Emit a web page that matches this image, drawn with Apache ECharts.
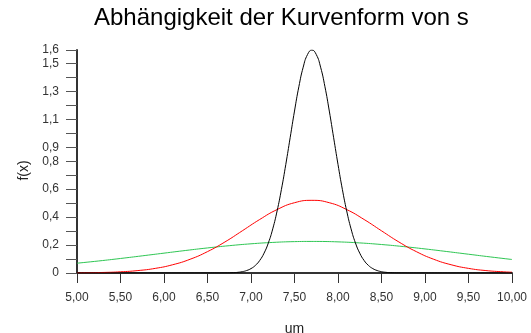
<!DOCTYPE html>
<html>
<head>
<meta charset="utf-8">
<script src="https://cdn.jsdelivr.net/npm/echarts@6/dist/echarts.min.js"></script>
<style>html,body{margin:0;padding:0;background:#fff}#c{width:531px;height:333px}</style>
</head>
<body>
<div id="c"></div>
<script>
var titleText = 'Abhängigkeit der Kurvenform von s';
var xAxisName = 'um';
var yAxisName = 'f(x)';

var blackX = [5.0, 6.0, 6.5, 6.7, 6.8, 6.85, 6.9, 6.95, 7.0, 7.05, 7.1, 7.15, 7.2, 7.25, 7.3, 7.35, 7.4, 7.45, 7.5, 7.55, 7.6, 7.65, 7.7,
              7.75, 7.8, 7.85, 7.9, 7.95, 8.0, 8.05, 8.1, 8.15, 8.2, 8.25, 8.3, 8.35, 8.4, 8.45, 8.5, 8.55, 8.6, 8.7, 8.9, 9.5, 10.0];
var blackY = [0, 0, 0, 0.0005, 0.0024, 0.0049, 0.0095, 0.0177, 0.0316, 0.0543, 0.0896, 0.142, 0.216, 0.316, 0.444, 0.599, 0.777, 0.968, 1.159, 1.333, 1.473, 1.564, 1.596,
              1.564, 1.473, 1.333, 1.159, 0.968, 0.777, 0.599, 0.444, 0.316, 0.216, 0.142, 0.0896, 0.0543, 0.0316, 0.0177, 0.0095, 0.0049, 0.0024, 0.0005, 0, 0, 0];

var redX = [5.0, 5.1, 5.3, 5.5, 5.7, 5.9, 6.1, 6.3, 6.5, 6.7, 6.9, 7.1, 7.3, 7.5, 7.7, 7.9, 8.1, 8.3, 8.5, 8.7, 8.9, 9.1, 9.3, 9.5, 9.7, 9.9, 10.0];
var redY = [0.0011, 0.0017, 0.0039, 0.0085, 0.0174, 0.0331, 0.0591, 0.0983, 0.153, 0.222, 0.302, 0.383, 0.454, 0.503, 0.52,
            0.503, 0.454, 0.383, 0.302, 0.222, 0.153, 0.0983, 0.0591, 0.0331, 0.0174, 0.0085, 0.0058];

var greenX = [5.0, 5.25, 5.5, 5.75, 6.0, 6.25, 6.5, 6.75, 7.0, 7.25, 7.5, 7.7, 7.75, 8.0, 8.25, 8.5, 8.75, 9.0, 9.25, 9.5, 9.75, 10.0];
var greenY = [0.0701, 0.0862, 0.1039, 0.1228, 0.1421, 0.1613, 0.1794, 0.1955, 0.2089, 0.2188, 0.2246, 0.226, 0.2259, 0.2228,
              0.2153, 0.2039, 0.1893, 0.1723, 0.1537, 0.1344, 0.1151, 0.0967];

var yTickValues = [0, 0.1, 0.2, 0.3, 0.4, 0.5, 0.6, 0.7, 0.8, 0.9, 1.0, 1.1, 1.2, 1.3, 1.4, 1.5];
var yLabelValues = [0, 0.2, 0.4, 0.6, 0.8, 0.9, 1.1, 1.3, 1.5];

function pairs(xs, ys) { return xs.map(function (x, i) { return [x, ys[i]]; }); }
var yMax = Math.max.apply(null, blackY);

var font = 'Liberation Sans, Arial, sans-serif';
var chart = echarts.init(document.getElementById('c'), null, {renderer: 'canvas'});
chart.setOption({
  animation: false,
  backgroundColor: '#fff',
  title: {
    text: titleText,
    left: 89, top: 1,
    textStyle: {fontFamily: font, fontSize: 24, fontWeight: 'normal', color: '#000'}
  },
  grid: {left: 77, right: 19, top: 50, bottom: 60, containLabel: false, outerBoundsMode: 'none'},
  xAxis: {
    type: 'value', min: 5, max: 10, interval: 0.5,
    name: xAxisName, nameLocation: 'middle', nameGap: 49,
    nameTextStyle: {fontFamily: font, fontSize: 14, color: '#222'},
    axisLine: {show: true, onZero: false, lineStyle: {color: '#333', width: 2}},
    axisTick: {show: true, length: 10, lineStyle: {color: '#333', width: 1}},
    axisLabel: {margin: 19, fontFamily: font, fontSize: 12, color: '#333',
      formatter: function (v) { return v.toFixed(2).replace('.', ','); }},
    splitLine: {show: false}
  },
  yAxis: {
    type: 'value', min: 0, max: yMax,
    name: yAxisName, nameLocation: 'middle', nameGap: 46, nameRotate: 90,
    nameTextStyle: {fontFamily: font, fontSize: 14, color: '#222', padding: [0, 18, 0, 0]},
    axisLine: {show: true, lineStyle: {color: '#333', width: 2}},
    axisTick: {show: true, length: 11, customValues: yTickValues.concat([yMax]), lineStyle: {color: '#555', width: 1}},
    axisLabel: {margin: 18, fontFamily: font, fontSize: 12, color: '#333',
      customValues: yLabelValues.concat([yMax]),
      formatter: function (v) { return v === 0 ? '0' : v.toFixed(1).replace('.', ','); }},
    splitLine: {show: false}
  },
  series: [
    {type: 'line', data: pairs(greenX, greenY), smooth: true, showSymbol: false, lineStyle: {color: '#2ec653', width: 1}, z: 3},
    {type: 'line', data: pairs(redX, redY), smooth: true, showSymbol: false, lineStyle: {color: '#ff0000', width: 1}, z: 4},
    {type: 'line', data: pairs(blackX, blackY), smooth: true, showSymbol: false, lineStyle: {color: '#000000', width: 1}, z: 5}
  ]
});
</script>
</body>
</html>
